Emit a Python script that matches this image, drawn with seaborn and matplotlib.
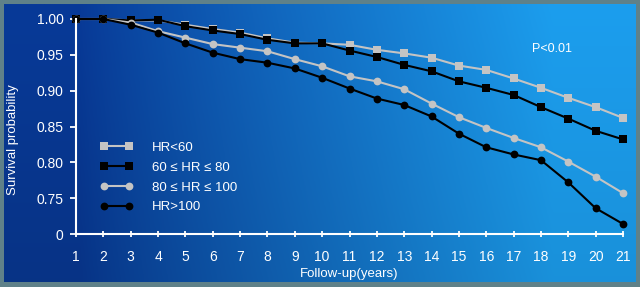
import numpy as np
import pandas as pd
import matplotlib
matplotlib.use("Agg")
import matplotlib.pyplot as plt
import seaborn as sns

years = list(range(1, 22))
hr_lt60 = [1.000, 1.000, 0.998, 0.998, 0.992, 0.986, 0.981, 0.973, 0.967, 0.966, 0.964,
           0.957, 0.952, 0.946, 0.935, 0.929, 0.917, 0.904, 0.890, 0.877, 0.862]
hr_60_80 = [1.000, 1.000, 0.998, 0.999, 0.990, 0.984, 0.979, 0.971, 0.966, 0.966, 0.956,
            0.947, 0.936, 0.927, 0.913, 0.904, 0.894, 0.877, 0.861, 0.844, 0.832]
hr_80_100 = [1.000, 1.000, 0.995, 0.983, 0.974, 0.965, 0.960, 0.955, 0.944, 0.934, 0.920,
             0.913, 0.902, 0.882, 0.863, 0.848, 0.834, 0.821, 0.801, 0.780, 0.757]
hr_gt100 = [1.000, 1.000, 0.992, 0.981, 0.966, 0.953, 0.944, 0.939, 0.931, 0.918, 0.903,
            0.889, 0.880, 0.864, 0.840, 0.821, 0.811, 0.803, 0.772, 0.736, 0.714]
labels = ["HR<60", "60 \u2264 HR \u2264 80", "80 \u2264 HR \u2264 100", "HR>100"]
ytick_vals = [0.70, 0.75, 0.80, 0.85, 0.90, 0.95, 1.00]
ytick_labels = ["0", "0.75", "0.80", "0.85", "0.90", "0.95", "1.00"]

sns.set_theme(style="white")
plt.rcParams['font.family'] = ['Liberation Sans', 'DejaVu Sans']

W, H = 640, 287
fig = plt.figure(figsize=(W / 100, H / 100), dpi=100)
fig.patch.set_facecolor("#5f8189")

# gradient background
bg = fig.add_axes([4 / W, 5 / H, 1 - 8 / W, 1 - 9 / H])
bg.set_axis_off()
nx, ny = 320, 140
xx, yy = np.meshgrid(np.linspace(0, 1, nx), np.linspace(0, 1, ny))
t = np.clip((xx - 0.12) / 0.75, 0, 1) ** 0.9
dark = np.array([8, 58, 152]) / 255
light = np.array([28, 158, 238]) / 255
img = dark[None, None, :] * (1 - t[..., None]) + light[None, None, :] * t[..., None]
shade = 1 - 0.12 * yy[..., None] * (1 - 0.3 * t[..., None])
img = np.clip(img * shade, 0, 1)
bg.imshow(img, aspect="auto", extent=[0, 1, 0, 1], origin="upper")

ax = fig.add_axes([76 / W, 1 - 234 / H, (623 - 76) / W, (234 - 19) / H])
ax.patch.set_alpha(0)

df = pd.DataFrame({
    "year": years * 4,
    "surv": hr_lt60 + hr_60_80 + hr_80_100 + hr_gt100,
    "group": sum([[l] * len(years) for l in labels], []),
})
palette = {labels[0]: "#c4c4c4", labels[1]: "#000000", labels[2]: "#c4c4c4", labels[3]: "#000000"}
markers = {labels[0]: "s", labels[1]: "s", labels[2]: "o", labels[3]: "o"}
sns.lineplot(data=df, x="year", y="surv", hue="group", style="group", palette=palette,
             markers=markers, dashes=False, linewidth=1.5, markersize=5.6,
             markeredgewidth=0, ax=ax, clip_on=False, hue_order=labels, style_order=labels)

ax.set_xlim(1, 21)
ax.set_ylim(0.70, 1.00)
ax.set_xticks(years)
ax.set_yticks(ytick_vals)
ax.set_yticklabels(ytick_labels)
for s in ["top", "right"]:
    ax.spines[s].set_visible(False)
for s in ["left", "bottom"]:
    ax.spines[s].set_color("white")
    ax.spines[s].set_linewidth(1.5)
ax.tick_params(axis="x", colors="white", direction="inout", length=5, width=1.3,
               labelsize=10, pad=9, bottom=True)
ax.tick_params(axis="y", colors="white", direction="out", length=4, width=1.3,
               labelsize=10, pad=5, left=True)
ax.set_xlabel("Follow-up(years)", color="white", fontsize=9.5, labelpad=3)
ax.set_ylabel("Survival probability", color="white", fontsize=9.5)
ax.yaxis.set_label_coords(-0.105, 0.44)

ax.text(0.87, 0.86, "P<0.01", transform=ax.transAxes, color="white", fontsize=9,
        ha="center", va="center")

leg = ax.legend(loc="upper left", bbox_to_anchor=(0.044, 0.43), frameon=False,
                fontsize=9.5, labelspacing=0.58, handlelength=2.5, handletextpad=1.4,
                borderaxespad=0, borderpad=0, numpoints=2, labelcolor="white")
ax.figure.savefig("out.png", dpi=100, facecolor=fig.get_facecolor())
